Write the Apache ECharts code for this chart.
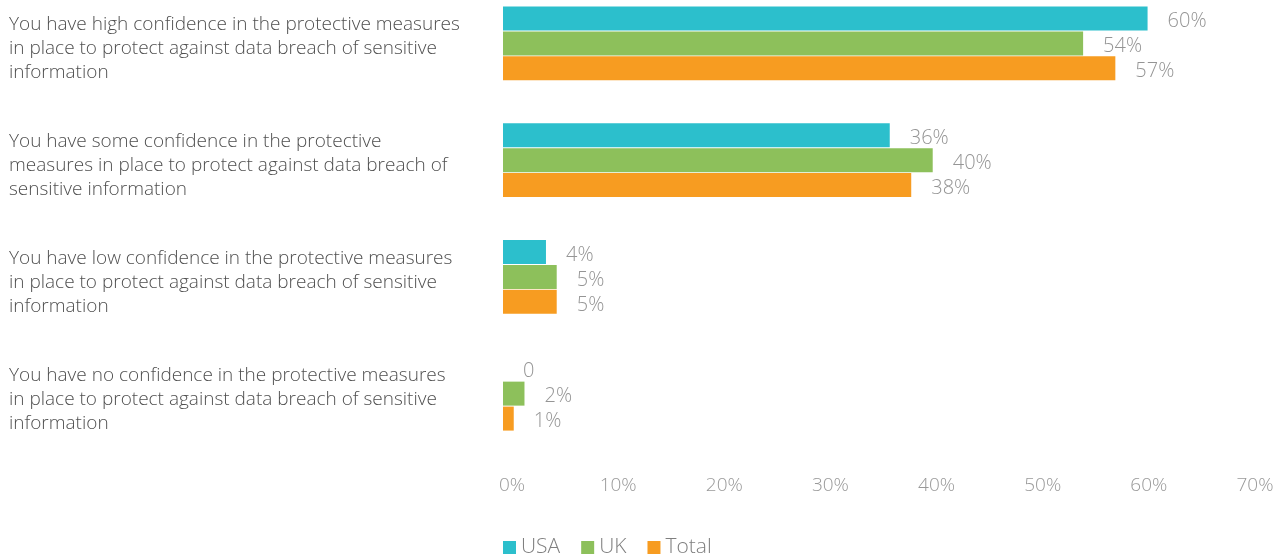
<!DOCTYPE html>
<html>
<head>
<meta charset="utf-8">
<script src="https://cdn.jsdelivr.net/npm/echarts@6/dist/echarts.min.js"></script>
<style>
  html, body { margin: 0; padding: 0; background: #ffffff; overflow: hidden; }
  /* canvas is a little taller than the window so the first row sits close to the top edge */
  #chart { width: 1285px; height: 573px; margin-top: -15px; }
</style>
</head>
<body>
<div id="chart"></div>
<script>
// Survey statements (line breaks as printed)
const categories = [
  'You have high confidence in the protective measures\nin place to protect against data breach of sensitive\ninformation',
  'You have some confidence in the protective\nmeasures in place to protect against data breach of\nsensitive information',
  'You have low confidence in the protective measures\nin place to protect against data breach of sensitive\ninformation',
  'You have no confidence in the protective measures\nin place to protect against data breach of sensitive\ninformation'
];

// Share of respondents, percent
const usaValues = [60, 36, 4, 0];
const ukValues = [54, 40, 5, 2];
const totalValues = [57, 38, 5, 1];

const seriesNames = ['USA', 'UK', 'Total'];
const seriesColors = ['#2cbfcc', '#8dc05b', '#f79c21'];

const xTicks = [0, 10, 20, 30, 40, 50, 60, 70];

const FONT = '"Open Sans", "Noto Sans", sans-serif';

const chart = echarts.init(document.getElementById('chart'), null, { renderer: 'canvas' });

function makeSeries(name, values, color) {
  return {
    name: name,
    type: 'bar',
    xAxisIndex: 0,
    data: values,
    barWidth: 24,
    barGap: '4%',
    itemStyle: { color: color },
    label: {
      show: true,
      position: 'right',
      distance: 20,
      offset: [0, 3],
      color: '#959595',
      fontFamily: FONT,
      fontWeight: 300,
      fontSize: 20,
      formatter: p => (p.value === 0 ? '0' : p.value + '%')
    }
  };
}

chart.setOption({
  animation: false,
  textStyle: { fontFamily: FONT },
  grid: { left: 503, right: 30, top: 0, bottom: 106, containLabel: false },
  legend: {
    data: seriesNames,
    left: 503,
    bottom: 0,
    padding: 0,
    itemWidth: 13,
    itemHeight: 13,
    itemGap: 21,
    icon: 'rect',
    textStyle: { fontFamily: FONT, fontWeight: 300, fontSize: 21, color: '#7f7f7f' }
  },
  xAxis: [
    {
      // value scale used by the bars
      type: 'value',
      position: 'bottom',
      min: xTicks[0],
      max: xTicks[xTicks.length - 1],
      interval: 10,
      axisLine: { show: false },
      axisTick: { show: false },
      splitLine: { show: false },
      axisLabel: { show: false }
    },
    {
      // tick label row, spaced slightly tighter than the bar scale
      type: 'value',
      position: 'bottom',
      min: -0.85,
      max: xTicks[xTicks.length - 1],
      axisLine: { show: false },
      axisTick: { show: false },
      splitLine: { show: false },
      axisLabel: {
        customValues: xTicks,
        margin: 24,
        color: '#999999',
        fontFamily: FONT,
        fontWeight: 300,
        fontSize: 19,
        formatter: v => v + '%'
      }
    }
  ],
  yAxis: {
    type: 'category',
    data: categories,
    inverse: true,
    axisLine: { show: false },
    axisTick: { show: false },
    axisLabel: {
      align: 'left',
      margin: 494,
      color: '#4f4f4f',
      fontFamily: FONT,
      fontWeight: 300,
      fontSize: 19,
      lineHeight: 24,
      formatter: v => '{sp| }\n' + v,
      rich: { sp: { lineHeight: 11, fontSize: 4 } }
    }
  },
  series: [
    makeSeries(seriesNames[0], usaValues, seriesColors[0]),
    makeSeries(seriesNames[1], ukValues, seriesColors[1]),
    makeSeries(seriesNames[2], totalValues, seriesColors[2])
  ]
});
</script>
</body>
</html>
